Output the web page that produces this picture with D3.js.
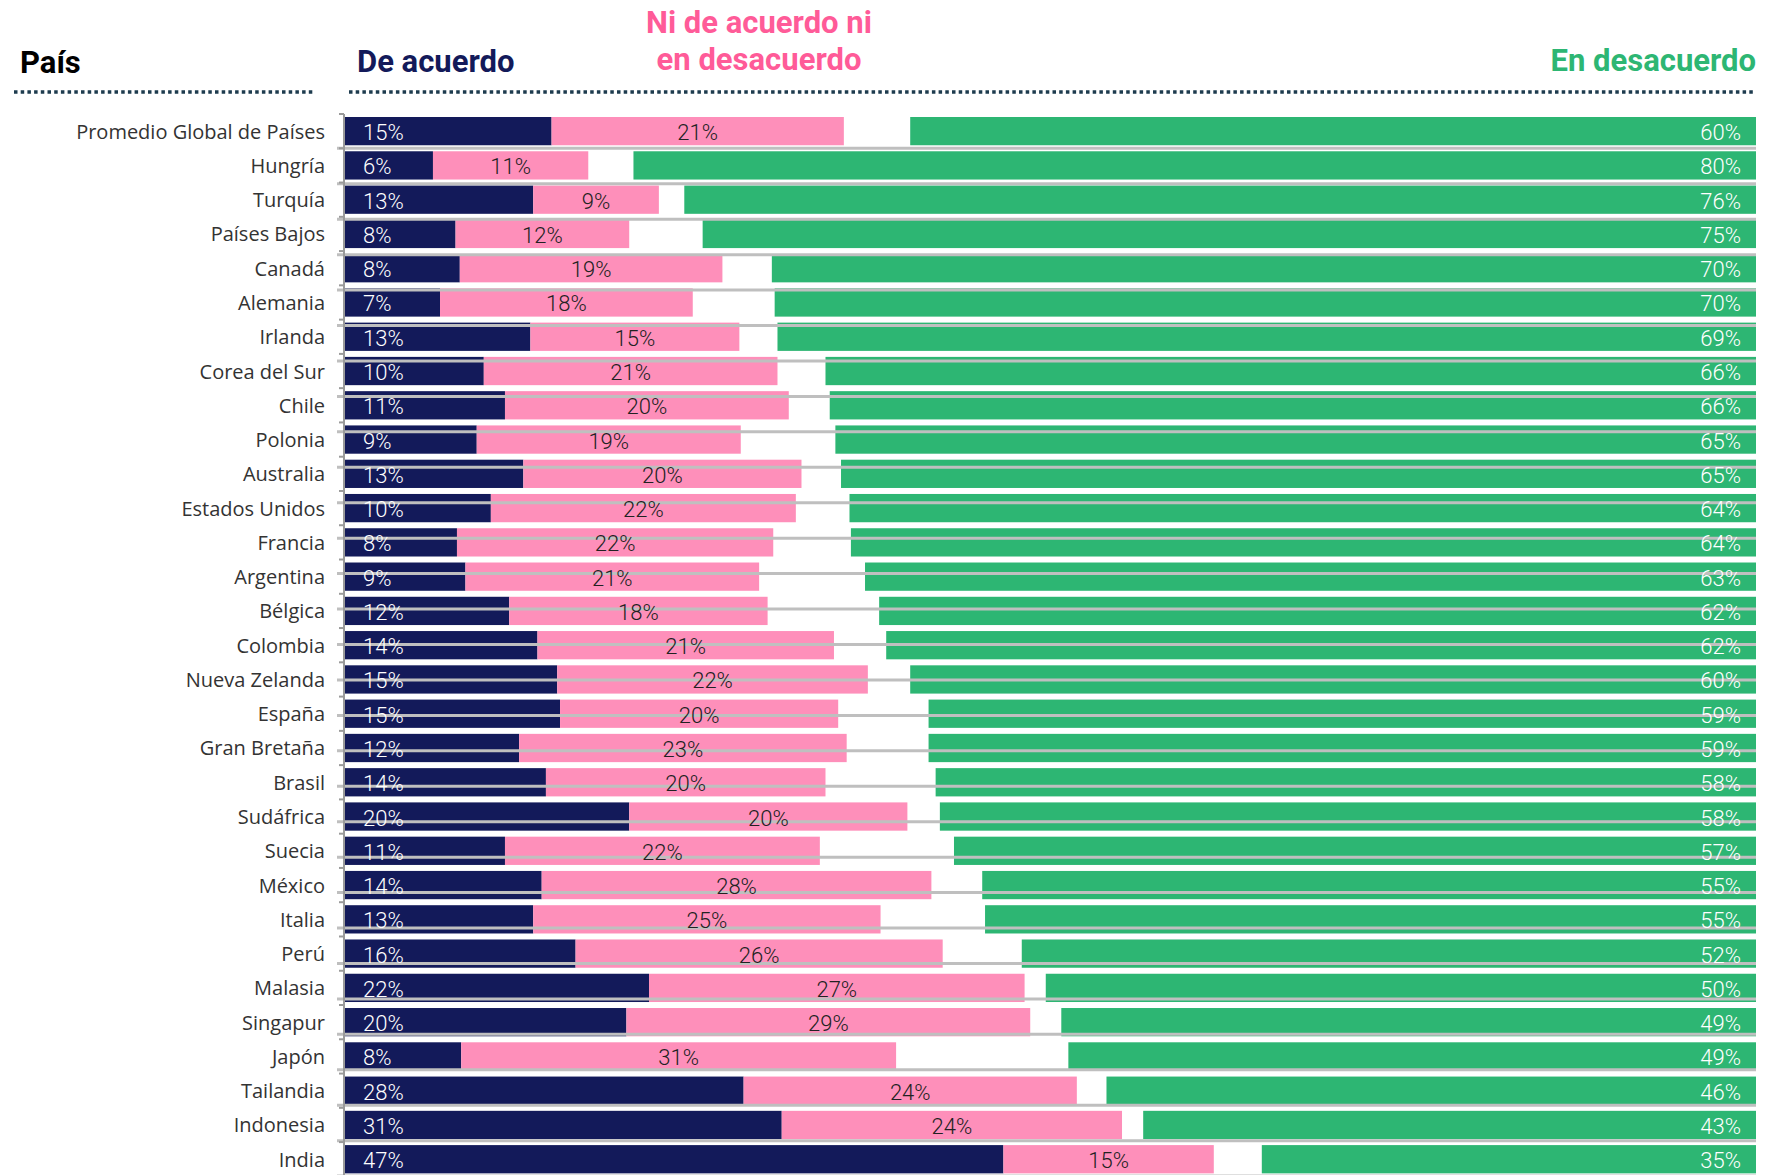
<!DOCTYPE html>
<html>
<head>
<meta charset="utf-8">
<script src="https://cdn.jsdelivr.net/npm/d3@7"></script>
<style>
  html, body { margin: 0; padding: 0; background: #ffffff; }
  svg { display: block; }
</style>
</head>
<body>
<svg id="chart" width="1788" height="1175"></svg>
<script>
// ---- data ----
const countries = ["Promedio Global de Países","Hungría","Turquía","Países Bajos","Canadá","Alemania","Irlanda","Corea del Sur","Chile","Polonia","Australia","Estados Unidos","Francia","Argentina","Bélgica","Colombia","Nueva Zelanda","España","Gran Bretaña","Brasil","Sudáfrica","Suecia","México","Italia","Perú","Malasia","Singapur","Japón","Tailandia","Indonesia","India"];
const agree    = [14.7,6.3,13.4,7.9,8.2,6.8,13.2,9.9,11.4,9.4,12.7,10.4,8.0,8.6,11.7,13.7,15.1,15.3,12.4,14.3,20.2,11.4,14.0,13.4,16.4,21.6,20.0,8.3,28.3,31.0,46.7];
const neutral  = [20.7,11.0,8.9,12.3,18.6,17.9,14.8,20.8,20.1,18.7,19.7,21.6,22.4,20.8,18.3,21.0,22.0,19.7,23.2,19.8,19.7,22.3,27.6,24.6,26.0,26.6,28.6,30.8,23.6,24.1,14.9];
const disagree = [59.9,79.5,75.9,74.6,69.7,69.5,69.3,65.9,65.6,65.2,64.8,64.2,64.1,63.1,62.1,61.6,59.9,58.6,58.6,58.1,57.8,56.8,54.8,54.6,52.0,50.3,49.2,48.7,46.0,43.4,35.0];
const headers = { country: "País", agree: "De acuerdo", neutral: ["Ni de acuerdo ni", "en desacuerdo"], disagree: "En desacuerdo" };

// ---- styles ----
const C = { navy: "#131a5a", pink: "#fe8fba", green: "#2db673", pinkHead: "#ff5b98", dots: "#1d3b4e", grid: "#bfbfbf", axis: "#9a9a9a", text: "#333333" };

const svg = d3.select("#chart");
const x = d3.scaleLinear().domain([0, 100]).range([344, 1756]);
const y = d3.scaleBand().domain(countries).range([114, 114 + 31 * 34.27]).paddingInner(0.175).paddingOuter(0.0875);
const yGrid = d3.scaleBand().domain(countries).range([112.9, 112.9 + 31 * 35.44]);

const rows = countries.map((c, i) => ({ c, a: agree[i], n: neutral[i], d: disagree[i] }));

// bars
const g = svg.append("g");
g.selectAll("rect.a").data(rows).join("rect").attr("class", "a")
  .attr("x", x(0)).attr("y", d => y(d.c)).attr("width", d => x(d.a) - x(0)).attr("height", y.bandwidth()).attr("fill", C.navy);
g.selectAll("rect.n").data(rows).join("rect").attr("class", "n")
  .attr("x", d => x(d.a)).attr("y", d => y(d.c)).attr("width", d => x(d.a + d.n) - x(d.a)).attr("height", y.bandwidth()).attr("fill", C.pink);
g.selectAll("rect.d").data(rows).join("rect").attr("class", "d")
  .attr("x", d => x(100 - d.d)).attr("y", d => y(d.c)).attr("width", d => x(100) - x(100 - d.d)).attr("height", y.bandwidth()).attr("fill", C.green);

// misaligned gridlines
const gridYs = countries.slice(1).map(c => yGrid(c));
gridYs.push(yGrid(countries[countries.length - 1]) + yGrid.step());
svg.append("g").selectAll("line").data(gridYs).join("line")
  .attr("x1", 337).attr("x2", x(100)).attr("y1", d => d).attr("y2", d => d)
  .attr("stroke", C.grid).attr("stroke-width", 3);

// axis
const axis = d3.axisLeft(y).tickSize(0).tickFormat("");
const ax = svg.append("g").attr("transform", `translate(${x(0)},0)`).call(axis);
ax.select(".domain").remove();
ax.append("line").attr("x1", 0).attr("x2", 0).attr("y1", 114).attr("y2", 1175).attr("stroke", C.axis).attr("stroke-width", 2);
ax.selectAll("line.tk").data(countries.map((c, i) => 114 + i * y.step())).join("line").attr("class", "tk")
  .attr("x1", -5).attr("x2", 0).attr("y1", d => d).attr("y2", d => d).attr("stroke", C.axis).attr("stroke-width", 2);

// category labels
svg.append("g").selectAll("text").data(rows).join("text")
  .attr("x", 325).attr("y", d => y(d.c) + y.bandwidth() / 2 + 7.5)
  .attr("text-anchor", "end").attr("font-family", "Open Sans, sans-serif").attr("font-size", 20).attr("fill", C.text)
  .text(d => d.c);

// value labels
const lab = svg.append("g").attr("font-family", "Roboto, sans-serif").attr("font-weight", 300).attr("font-size", 22);
lab.selectAll("text.a").data(rows).join("text").attr("class", "a")
  .attr("x", 363).attr("y", d => y(d.c) + y.bandwidth() / 2 + 9).attr("fill", "#ffffff")
  .text(d => Math.round(d.a) + "%");
lab.selectAll("text.n").data(rows).join("text").attr("class", "n")
  .attr("x", d => (x(d.a) + x(d.a + d.n)) / 2).attr("y", d => y(d.c) + y.bandwidth() / 2 + 9)
  .attr("text-anchor", "middle").attr("fill", "#222222")
  .text(d => Math.round(d.n) + "%");
lab.selectAll("text.d").data(rows).join("text").attr("class", "d")
  .attr("x", 1741).attr("y", d => y(d.c) + y.bandwidth() / 2 + 9)
  .attr("text-anchor", "end").attr("fill", "#ffffff")
  .text(d => Math.round(d.d) + "%");

// headers
const hd = svg.append("g").attr("font-family", "Roboto, sans-serif").attr("font-weight", 700).attr("font-size", 31);
hd.append("text").attr("x", 20).attr("y", 73).attr("fill", "#000").text(headers.country);
hd.append("text").attr("x", 357).attr("y", 72).attr("fill", C.navy).text(headers.agree);
hd.append("text").attr("x", 759).attr("y", 33).attr("text-anchor", "middle").attr("fill", C.pinkHead).text(headers.neutral[0]);
hd.append("text").attr("x", 759).attr("y", 70).attr("text-anchor", "middle").attr("fill", C.pinkHead).text(headers.neutral[1]);
hd.append("text").attr("x", 1756).attr("y", 71).attr("text-anchor", "end").attr("fill", C.green).text(headers.disagree);

// dotted rules
svg.append("line").attr("x1", 14).attr("x2", 315).attr("y1", 92).attr("y2", 92)
  .attr("stroke", C.dots).attr("stroke-width", 3.5).attr("stroke-dasharray", "3.5,3.2");
svg.append("line").attr("x1", 349).attr("x2", 1753).attr("y1", 92).attr("y2", 92)
  .attr("stroke", C.dots).attr("stroke-width", 3.5).attr("stroke-dasharray", "3.5,3.2");
</script>
</body>
</html>
